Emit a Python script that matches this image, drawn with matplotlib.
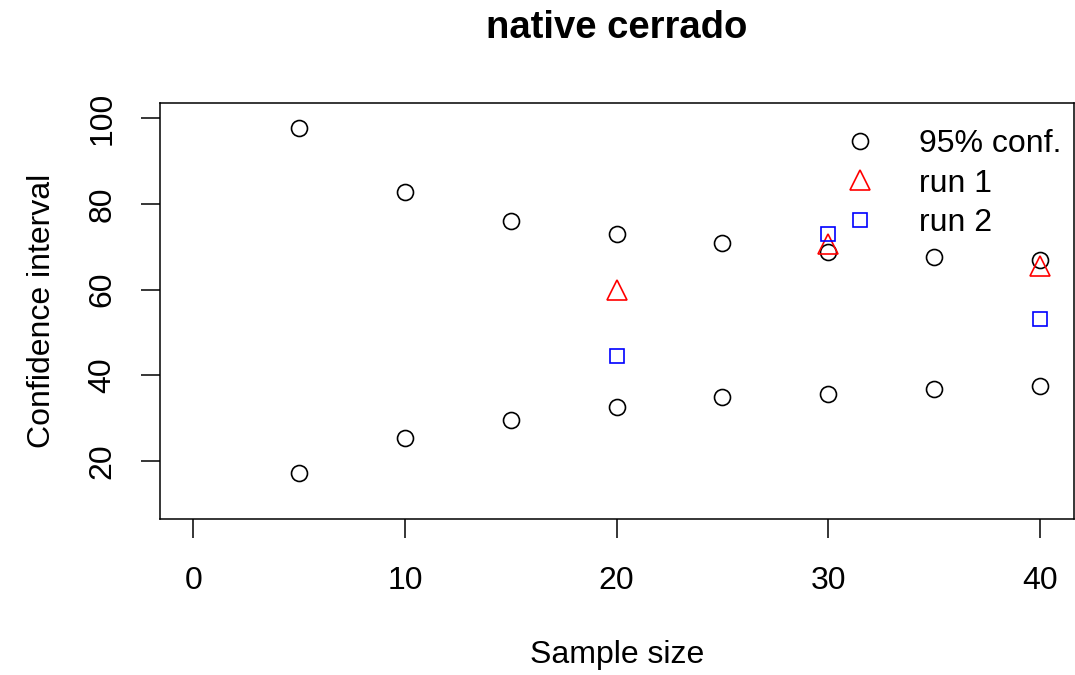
import matplotlib
matplotlib.use("Agg")
import matplotlib.pyplot as plt
from matplotlib.lines import Line2D

plt.rcParams['font.family'] = ['Liberation Sans', 'DejaVu Sans']

# sample sizes and confidence limits
sizes = [5, 10, 15, 20, 25, 30, 35, 40]
ci_upper = [97.7, 82.9, 76.1, 72.9, 71.0, 68.7, 67.7, 66.8]
ci_lower = [17.2, 25.4, 29.6, 32.6, 35.0, 35.7, 36.8, 37.5]

# runs
run_sizes = [20, 30, 40]
run1 = [59.8, 70.6, 65.6]
run2 = [44.6, 72.9, 53.2]

xticks = [0, 10, 20, 30, 40]
yticks = [20, 40, 60, 80, 100]

fig = plt.figure(figsize=(10.75, 6.75), dpi=100)
ax = fig.add_axes([159.5 / 1075, 1 - 519 / 675, 914 / 1075, 416 / 675])

mk = dict(linestyle='none', markerfacecolor='none', markeredgewidth=1.2)
ax.plot(sizes, ci_upper, marker='o', color='black', markersize=11.5, **mk)
ax.plot(sizes, ci_lower, marker='o', color='black', markersize=11.5, **mk)
ax.plot(run_sizes, run1, marker='^', color='red', markersize=14.5, **mk)
ax.plot(run_sizes, run2, marker='s', color='blue', markersize=10, **mk)

ax.set_xlim(-1.6, 41.6)
ax.set_ylim(6.4, 103.6)
ax.set_xticks(xticks)
ax.set_yticks(yticks)
ax.set_xticklabels([str(t) for t in xticks], fontsize=23)
ax.set_yticklabels([str(t) for t in yticks], fontsize=23, rotation=90, va='center')
ax.tick_params(direction='out', length=13.5, width=1.1)
ax.tick_params(axis='x', pad=20)
ax.tick_params(axis='y', pad=17)
for s in ax.spines.values():
    s.set_linewidth(1.1)

fig.text(617 / 1075, 1 - 28 / 675, 'native cerrado',
         ha='center', va='center', fontsize=27.5, fontweight='bold')
fig.text(617 / 1075, 1 - 655 / 675, 'Sample size', ha='center', va='center', fontsize=23)
fig.text(42 / 1075, 1 - 311 / 675, 'Confidence interval', ha='center', va='center',
         fontsize=23, rotation=90)

handles = [
    Line2D([], [], marker='o', color='black', markersize=11.5, **mk),
    Line2D([], [], marker='^', color='red', markersize=14.5, **mk),
    Line2D([], [], marker='s', color='blue', markersize=10, **mk),
]
ax.legend(handles, ['95% conf.', 'run 1', 'run 2'], loc='upper left',
          bbox_to_anchor=(828 / 1075, 1 - 129 / 675), bbox_transform=fig.transFigure,
          frameon=False, fontsize=23, handlelength=2.0, handletextpad=0.85,
          labelspacing=0.3, borderaxespad=0, borderpad=0)

fig.savefig('out.png', dpi=100)
